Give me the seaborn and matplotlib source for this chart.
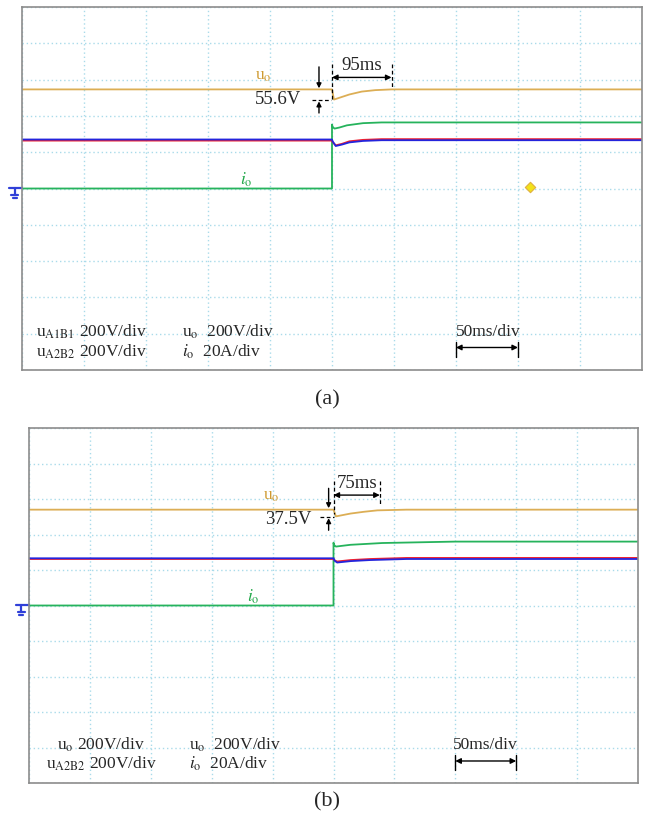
import numpy as np
import pandas as pd
import matplotlib
matplotlib.use("Agg")
import matplotlib.pyplot as plt
import matplotlib.transforms as mtransforms
import seaborn as sns

sns.set_style("white")
plt.rcParams["font.family"] = ["Liberation Serif", "DejaVu Serif"]
plt.rcParams["mathtext.fontset"] = "stix"

# time in ms (50 ms/div), amplitude in divisions (0 = ground marker)
# ---- panel (a)
t_uo_a = [-250, 0, 1.6, 6, 14, 24, 35, 48, 250]
uo_a = [2.73, 2.73, 2.45, 2.50, 2.59, 2.67, 2.71, 2.73, 2.73]
t_io_a = [-250, 0, 0, 0.5, 2, 6, 12, 25, 40, 250]
io_a = [0.0, 0.0, 1.76, 1.70, 1.65, 1.68, 1.74, 1.80, 1.82, 1.82]
t_ab_a = [-250, 0, 0.5, 3, 8, 14, 25, 40, 250]
red_a = [1.32, 1.32, 1.28, 1.19, 1.23, 1.30, 1.34, 1.36, 1.36]
blue_a = [1.35, 1.35, 1.30, 1.17, 1.21, 1.27, 1.31, 1.33, 1.33]

# ---- panel (b)
t_uo_b = [-250, 0, 2, 8, 14, 25, 36, 60, 250]
uo_b = [2.70, 2.70, 2.51, 2.55, 2.59, 2.64, 2.68, 2.70, 2.70]
t_io_b = [-250, 0, 0, 0.5, 2, 14, 40, 100, 250]
io_b = [0.0, 0.0, 1.77, 1.70, 1.66, 1.71, 1.76, 1.80, 1.80]
t_ab_b = [-250, 0, 1, 3, 14, 30, 60, 250]
red_b = [1.31, 1.31, 1.27, 1.24, 1.28, 1.31, 1.34, 1.34]
blue_b = [1.33, 1.33, 1.26, 1.21, 1.25, 1.28, 1.31, 1.31]

trace_colors = {"uo": "#dcae55", "io": "#26b35c", "red": "#ee2030", "blue": "#2424dc"}


def build(panel, sets):
    rows = []
    for name, ts, vs in sets:
        for t, v in zip(ts, vs):
            rows.append((panel, name, t, v))
    return rows


rows = build("a", [("uo", t_uo_a, uo_a), ("io", t_io_a, io_a),
                   ("red", t_ab_a, red_a), ("blue", t_ab_a, blue_a)])
rows += build("b", [("uo", t_uo_b, uo_b), ("io", t_io_b, io_b),
                    ("red", t_ab_b, red_b), ("blue", t_ab_b, blue_b)])
df = pd.DataFrame(rows, columns=["panel", "trace", "t", "v"])

fig = plt.figure(figsize=(6.5, 8.15), dpi=100)
ax_a = fig.add_axes([22 / 650, 1 - 370 / 815, 620 / 650, 363 / 815])
ax_b = fig.add_axes([29 / 650, 1 - 783 / 815, 609 / 650, 355 / 815])

grid_c = "#a9dbea"
uo_lab = "#cf9a30"
io_lab = "#22a84a"
fs = 12.5
fs_ann = 13.5


def scope(ax, d):
    sns.lineplot(data=d, x="t", y="v", hue="trace", palette=trace_colors,
                 hue_order=["uo", "io", "red", "blue"], estimator=None,
                 sort=False, legend=False, lw=1.3, ax=ax)
    ax.set_xlim(-250, 250)
    ax.set_ylim(-5, 5)
    ax.set_xticks(np.arange(-250, 251, 50))
    ax.set_yticks(np.arange(-5, 6, 1))
    ax.grid(True, color=grid_c, ls=(0, (1, 2)), lw=1.0)
    ax.tick_params(length=0, labelbottom=False, labelleft=False)
    ax.set_xlabel("")
    ax.set_ylabel("")
    for s in ax.spines.values():
        s.set_color("#8c8c8c")
        s.set_linewidth(1.2)
    # ground marker on the left edge
    tr = fig.dpi_scale_trans + mtransforms.ScaledTranslation(0, 0.5, ax.transAxes)
    segs = [((-13, 0), (1, 1)), ((-7.5, -7.5), (1, -6)), ((-11, -4), (-6, -6)),
            ((-9.5, -5.5), (-9, -9))]
    for xs, ys in segs:
        ax.plot(np.array(xs) / 100, np.array(ys) / 100, color="#3040d8", lw=1.6,
                transform=tr, clip_on=False)


def darrow(ax, x0, x1, y, bars=False):
    ax.annotate("", xy=(x1, y), xytext=(x0, y),
                arrowprops=dict(arrowstyle="<|-|>", color="black", lw=1.0,
                                mutation_scale=8, shrinkA=0, shrinkB=0))
    if bars:
        for x in (x0, x1):
            ax.plot([x, x], [y + 0.16, y - 0.26], color="black", lw=1.0)


def varrow(ax, x, y0, y1):
    ax.annotate("", xy=(x, y1), xytext=(x, y0),
                arrowprops=dict(arrowstyle="-|>", color="black", lw=1.0,
                                mutation_scale=7, shrinkA=0, shrinkB=0))


# ---------------- panel (a)
scope(ax_a, df[df.panel == "a"])
ax_a.text(-55, 3.09, r"u$_\mathrm{o}$", color=uo_lab, fontsize=fs, ha="center", va="center")
ax_a.text(-69, 0.25, r"$i_\mathrm{o}$", color=io_lab, fontsize=fs, ha="center", va="center")
ax_a.plot([0, 0], [3.44, 2.40], color="black", lw=0.9, ls=(0, (3, 2)))
ax_a.plot([48, 48], [3.44, 2.76], color="black", lw=0.9, ls=(0, (3, 2)))
darrow(ax_a, 0, 48, 3.06)
ax_a.text(24, 3.38, "95ms", fontsize=fs_ann, ha="center", va="center")
varrow(ax_a, -10.5, 3.35, 2.76)
varrow(ax_a, -10.5, 2.08, 2.40)
ax_a.plot([-16, -1], [2.45, 2.45], color="black", lw=0.9, ls=(0, (3, 2)))
ax_a.text(-25, 2.44, "55.6V", fontsize=fs_ann, ha="right", va="center")
ax_a.scatter([160], [0.03], marker="D", s=28, color="#f2e21a", edgecolor="#e0b040",
             linewidth=0.8, zorder=5)
ax_a.text(-239, -3.94, r"u$_\mathrm{A1B1}$ 200V/div", fontsize=fs, va="center")
ax_a.text(-239, -4.49, r"u$_\mathrm{A2B2}$ 200V/div", fontsize=fs, va="center")
ax_a.text(-121, -3.94, r"u$_\mathrm{o}$  200V/div", fontsize=fs, va="center")
ax_a.text(-121, -4.49, r"$i_\mathrm{o}$  20A/div", fontsize=fs, va="center")
ax_a.text(126, -3.94, "50ms/div", fontsize=fs, ha="center", va="center")
darrow(ax_a, 100, 150, -4.38, bars=True)
fig.text(327 / 650, 1 - 400 / 815, "(a)", fontsize=16, ha="center", va="center")

# ---------------- panel (b)
scope(ax_b, df[df.panel == "b"])
ax_b.text(-51, 3.08, r"u$_\mathrm{o}$", color=uo_lab, fontsize=fs, ha="center", va="center")
ax_b.text(-66, 0.24, r"$i_\mathrm{o}$", color=io_lab, fontsize=fs, ha="center", va="center")
ax_b.plot([0, 0], [3.50, 2.58], color="black", lw=0.9, ls=(0, (3, 2)))
ax_b.plot([38, 38], [3.50, 2.86], color="black", lw=0.9, ls=(0, (3, 2)))
darrow(ax_b, 0, 38, 3.11)
ax_b.text(19, 3.44, "75ms", fontsize=fs_ann, ha="center", va="center")
varrow(ax_b, -4, 3.30, 2.74)
varrow(ax_b, -4, 2.12, 2.46)
ax_b.plot([-11, 0], [2.49, 2.49], color="black", lw=0.9, ls=(0, (3, 2)))
ax_b.text(-18, 2.41, "37.5V", fontsize=fs_ann, ha="right", va="center")
ax_b.text(-227, -3.93, r"u$_\mathrm{o}$ 200V/div", fontsize=fs, va="center")
ax_b.text(-236, -4.47, r"u$_\mathrm{A2B2}$ 200V/div", fontsize=fs, va="center")
ax_b.text(-119, -3.93, r"u$_\mathrm{o}$  200V/div", fontsize=fs, va="center")
ax_b.text(-119, -4.47, r"$i_\mathrm{o}$  20A/div", fontsize=fs, va="center")
ax_b.text(125, -3.93, "50ms/div", fontsize=fs, ha="center", va="center")
darrow(ax_b, 100, 150, -4.38, bars=True)
fig.text(327 / 650, 1 - 802 / 815, "(b)", fontsize=16, ha="center", va="center")

fig.savefig("out.png", dpi=100)
